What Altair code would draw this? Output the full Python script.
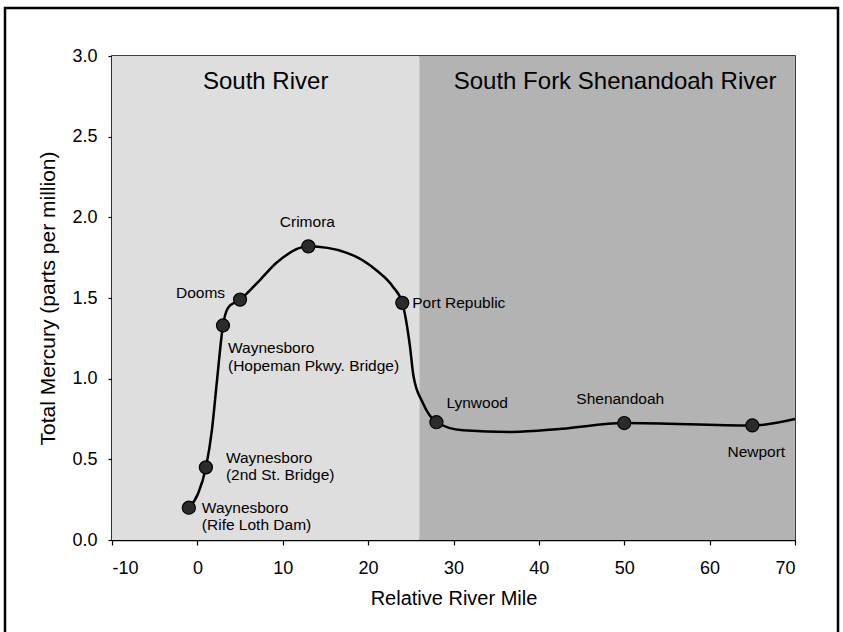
import altair as alt
import pandas as pd

# ---- data ----
site_names = [
    "Waynesboro\n(Rife Loth Dam)",
    "Waynesboro\n(2nd St. Bridge)",
    "Waynesboro\n(Hopeman Pkwy. Bridge)",
    "Dooms",
    "Crimora",
    "Port Republic",
    "Lynwood",
    "Shenandoah",
    "Newport",
]
site_mile = [-1, 1, 3, 5, 13, 24, 28, 50, 65]
site_hg = [0.20, 0.45, 1.33, 1.49, 1.82, 1.47, 0.73, 0.725, 0.71]

# smooth curve
curve_mile = [-1, 0.1, 1, 1.7, 2.3, 3, 3.6, 5, 7.3, 9.3, 13, 17.5, 21, 22.9, 24,
              24.9, 25.3, 26.4, 28, 31.1, 36.9, 42.7, 50, 65, 70]
curve_hg = [0.20, 0.29, 0.45, 0.68, 0.99, 1.33, 1.44, 1.49, 1.61, 1.72, 1.82, 1.78,
            1.67, 1.57, 1.47, 1.20, 1.02, 0.85, 0.73, 0.68, 0.67, 0.69, 0.725, 0.71, 0.75]

region_names = ["South River", "South Fork Shenandoah River"]
region_start = [-10, 26]
region_end = [26, 70]
region_colors = ["#dedede", "#b3b3b3"]

x_ticks = [-10, 0, 10, 20, 30, 40, 50, 60, 70]
y_ticks = [0.0, 0.5, 1.0, 1.5, 2.0, 2.5, 3.0]

FONT = "Liberation Sans"
W, H = 683, 484

sites = pd.DataFrame({"site": site_names, "mile": site_mile, "hg": site_hg})
curve = pd.DataFrame({"mile": curve_mile, "hg": curve_hg})
regions = pd.DataFrame({"region": region_names, "start": region_start, "end": region_end})

xscale = alt.Scale(domain=[-10, 70], nice=False, zero=False)
yscale = alt.Scale(domain=[0, 3], nice=False)

x_axis = alt.Axis(values=x_ticks, title="Relative River Mile", grid=False,
                  labelExpr="replace(datum.label, '\u2212', '-')",
                  tickSize=5, labelPadding=14, titlePadding=11,
                  labelFontSize=18, titleFontSize=20, titleFontWeight="normal")
y_axis = alt.Axis(values=y_ticks, format=".1f", title="Total Mercury (parts per million)",
                  grid=False, tickSize=4, labelPadding=11, titlePadding=13,
                  labelFontSize=18, titleFontSize=21, titleFontWeight="normal")

base_regions = alt.Chart(regions)
region_rects = base_regions.mark_rect().encode(
    x=alt.X("start:Q", scale=xscale, axis=x_axis),
    x2="end:Q",
    y=alt.datum(0, scale=yscale, axis=y_axis, type="quantitative"),
    y2=alt.datum(3),
    color=alt.Color("region:N", scale=alt.Scale(domain=region_names, range=region_colors), legend=None),
)

title_sr = base_regions.transform_filter(alt.datum.region == region_names[0]).transform_calculate(
    mid="(datum.start + datum.end) / 2"
).mark_text(font=FONT, fontSize=24, color="black", baseline="middle").encode(
    x=alt.X("mid:Q", scale=xscale), y=alt.value(26), text="region:N")

title_sf = base_regions.transform_filter(alt.datum.region == region_names[1]).transform_calculate(
    mid="(datum.start + datum.end) / 2"
).mark_text(font=FONT, fontSize=24, color="black", baseline="middle", dx=8).encode(
    x=alt.X("mid:Q", scale=xscale), y=alt.value(26), text="region:N")

line = alt.Chart(curve).mark_line(color="black", strokeWidth=2.5, interpolate="monotone").encode(
    x=alt.X("mile:Q", scale=xscale), y=alt.Y("hg:Q", scale=yscale))

points = alt.Chart(sites).mark_point(filled=True, shape="circle", size=170, color="#2b2b2b",
                                     stroke="black", strokeWidth=1.2, opacity=1).encode(
    x=alt.X("mile:Q", scale=xscale), y=alt.Y("hg:Q", scale=yscale))


def label(name, align, dx, dy, lh=17):
    return alt.Chart(sites).transform_filter(alt.datum.site == name).mark_text(
        font=FONT, fontSize=15.5, color="black", align=align, baseline="alphabetic",
        dx=dx, dy=dy, lineBreak="\n", lineHeight=lh,
    ).encode(x=alt.X("mile:Q", scale=xscale), y=alt.Y("hg:Q", scale=yscale), text="site:N")


labels = [
    label(site_names[0], "left", 13, 5.5),
    label(site_names[1], "left", 20, -4.5),
    label(site_names[2], "left", 5, 27.5, lh=18),
    label(site_names[3], "right", -15, -1.5),
    label(site_names[4], "center", -1, -19),
    label(site_names[5], "left", 10, 5.5),
    label(site_names[6], "left", 10, -14),
    label(site_names[7], "center", -4, -19),
    label(site_names[8], "center", 4, 32),
]

frame = alt.Chart(pd.DataFrame({"k": [0]})).mark_rect(
    fillOpacity=0, stroke="black", strokeWidth=2.5).encode(
    x=alt.value(-107), x2=alt.value(726), y=alt.value(-48), y2=alt.value(590))

chart = alt.layer(region_rects, title_sr, title_sf, line, points, *labels, frame).properties(
    width=W, height=H,
    autosize=alt.AutoSizeParams(type="none"),
    padding={"left": 112, "top": 56, "right": 843 - 112 - W, "bottom": 632 - 56 - H},
    background="white",
).configure_view(stroke="black", strokeWidth=1.5).configure_axis(
    domainColor="black", domainWidth=1.5, tickColor="black", tickWidth=1.2,
    labelColor="black", titleColor="black", labelFont=FONT, titleFont=FONT,
)

chart.save("out.html", embed_options={"renderer": "svg", "actions": False})
